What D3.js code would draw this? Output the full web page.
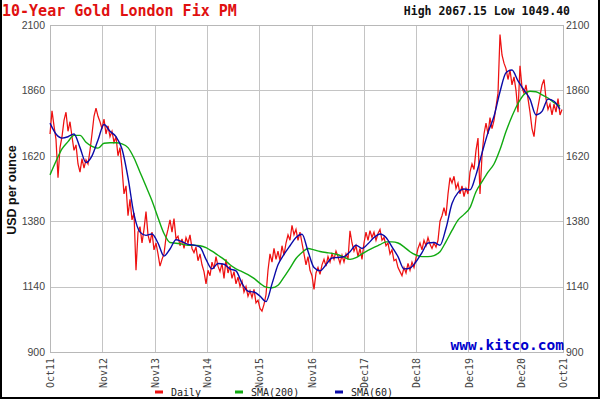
<!DOCTYPE html>
<html>
<head>
<meta charset="utf-8">
<script src="https://cdn.jsdelivr.net/npm/d3@7"></script>
<style>
  body { margin: 0; background: #fff; }
  svg { display: block; }
  .grid line { stroke: #c4c4c4; stroke-width: 1; shape-rendering: crispEdges; }
  .axis text { fill: #444; }
</style>
</head>
<body>
<svg id="chart" width="600" height="399"></svg>
<script>
// x positions are trading-day offsets from the first day shown
const dateLabels = ['Oct11', 'Nov12', 'Nov13', 'Nov14', 'Nov15', 'Nov16', 'Dec17', 'Dec18', 'Dec19', 'Dec20', 'Oct21'];
const tickDays = [0, 262, 524, 784, 1044, 1308, 1568, 1830, 2092, 2352, 2565];
const yTicks = [900, 1140, 1380, 1620, 1860, 2100];
const totalDays = 2565;
const dailyStep = 10;
const smaStep = 30;

const daily = [
    1700, 1785, 1730, 1680, 1540, 1650, 1690, 1750, 1780, 1710, 1745, 1690, 1640, 1660, 1590, 1560, 1610, 1575, 1605, 1590, 1640, 1700, 1765, 1795, 1765,
    1745, 1720, 1755, 1700, 1730, 1690, 1710, 1670, 1690, 1620, 1650, 1575, 1480, 1510, 1400, 1460, 1385, 1410, 1200, 1340, 1360, 1300, 1350, 1415, 1330,
    1300, 1340, 1275, 1300, 1260, 1215, 1240, 1260, 1320, 1350, 1385, 1340, 1390, 1315, 1325, 1290, 1315, 1280, 1320, 1300, 1330, 1280, 1265, 1285, 1235,
    1260, 1220, 1195, 1150, 1200, 1180, 1230, 1205, 1250, 1215, 1195, 1225, 1170, 1240, 1190, 1215, 1170, 1195, 1150, 1175, 1140, 1160, 1120, 1140, 1105,
    1125, 1100, 1130, 1080, 1090, 1060, 1050, 1075, 1110, 1200, 1260, 1230, 1280, 1240, 1270, 1235, 1290, 1255, 1300, 1330, 1310, 1365, 1330, 1350, 1310,
    1340, 1300, 1260, 1220, 1250, 1200, 1180, 1130, 1190, 1210, 1185, 1220, 1240, 1215, 1250, 1230, 1260, 1240, 1270, 1250, 1225, 1255, 1230, 1260, 1240,
    1345, 1300, 1270, 1290, 1250, 1280, 1240, 1300, 1340, 1310, 1345, 1320, 1340, 1310, 1335, 1350, 1310, 1320, 1290, 1300, 1260, 1275, 1235, 1240, 1210,
    1195, 1180, 1210, 1190, 1225, 1200, 1230, 1210, 1245, 1280, 1300, 1275, 1310, 1290, 1320, 1295, 1280, 1300, 1285, 1310, 1380, 1400, 1430, 1400, 1480,
    1540, 1520, 1545, 1500, 1520, 1480, 1510, 1470, 1500, 1480, 1560, 1590, 1570, 1640, 1685, 1480, 1620, 1700, 1740, 1700, 1760, 1720, 1750, 1800, 1850,
    2065, 1990, 1960, 1940, 1900, 1935, 1880, 1910, 1860, 1780, 1950, 1870, 1850, 1880, 1830, 1780, 1720, 1690, 1760, 1800, 1840, 1880, 1900, 1830, 1790,
    1810, 1770, 1810, 1780, 1830, 1770, 1790
];

const sma200 = [
    1550, 1600, 1645, 1672, 1695, 1695, 1670, 1655, 1648,
    1666, 1668, 1668, 1664, 1650, 1612, 1560, 1508, 1455,
    1393, 1335, 1302, 1299, 1296, 1292, 1292, 1290, 1283,
    1270, 1255, 1240, 1220, 1205, 1195, 1184, 1170, 1152,
    1138, 1136, 1145, 1175, 1208, 1243, 1265, 1280, 1275,
    1269, 1265, 1262, 1257, 1248, 1240, 1246, 1260, 1273,
    1284, 1294, 1304, 1304, 1300, 1286, 1268, 1256, 1250,
    1250, 1254, 1268, 1305, 1346, 1384, 1405, 1430, 1488,
    1525, 1560, 1590, 1643, 1709, 1765, 1812, 1845, 1857,
    1855, 1844, 1832, 1815, 1802
];

const sma60 = [
    1740, 1700, 1685, 1690, 1700, 1650, 1595, 1620, 1678,
    1735, 1710, 1690, 1645, 1540, 1405, 1340, 1328, 1333,
    1300, 1252, 1278, 1312, 1305, 1295, 1292, 1285, 1240,
    1205, 1225, 1222, 1205, 1198, 1152, 1123, 1120, 1105,
    1085, 1150, 1220, 1258, 1290, 1320, 1332, 1270, 1210,
    1198, 1220, 1245, 1247, 1250, 1268, 1292, 1280, 1297,
    1320, 1333, 1320, 1286, 1250, 1205, 1208, 1231, 1265,
    1300, 1302, 1292, 1354, 1445, 1485, 1498, 1495, 1550,
    1630, 1705, 1765, 1855, 1925, 1935, 1895, 1862, 1828,
    1770, 1783, 1828, 1820, 1790
];

const seriesLabels = ['Daily', 'SMA(200)', 'SMA(60)'];
const seriesColors = ['#ee1111', '#11aa11', '#0a0aa8'];

const svg = d3.select('#chart');
const margin = { top: 25, right: 37, bottom: 47, left: 50 };
const width = 600 - margin.left - margin.right;
const height = 399 - margin.top - margin.bottom;
const g = svg.append('g').attr('transform', `translate(${margin.left}, ${margin.top})`);

const xScale = d3.scaleLinear().domain([0, totalDays]).range([0, width]);
const yScale = d3.scaleLinear().domain([900, 2100]).range([height, 0]);

// grid
g.append('g')
    .attr('class', 'grid')
    .call(d3.axisLeft(yScale).tickValues(yTicks).tickSize(-width).tickFormat(''))
    .call(s => s.select('.domain').remove());
g.append('g')
    .attr('class', 'grid')
    .attr('transform', `translate(0, ${height})`)
    .call(d3.axisBottom(xScale).tickValues(tickDays).tickSize(-height).tickFormat(''))
    .call(s => s.select('.domain').remove());

// value labels, both sides
const yLeft = g.append('g')
    .attr('class', 'axis')
    .call(d3.axisLeft(yScale).tickValues(yTicks).tickFormat(d3.format('d')).tickSize(0).tickPadding(5));
const yRight = g.append('g')
    .attr('class', 'axis')
    .attr('transform', `translate(${width}, 0)`)
    .call(d3.axisRight(yScale).tickValues(yTicks).tickFormat(d3.format('d')).tickSize(0).tickPadding(3));
[yLeft, yRight].forEach(a => {
    a.select('.domain').remove();
    a.selectAll('text')
        .attr('font-family', '"Liberation Sans", Arial, sans-serif')
        .attr('font-size', 10.5);
});

const xAxis = g.append('g')
    .attr('class', 'axis')
    .attr('transform', `translate(0, ${height})`)
    .call(d3.axisBottom(xScale).tickValues(tickDays).tickSize(0).tickFormat((d, i) => dateLabels[i]));
xAxis.select('.domain').remove();
xAxis.selectAll('text')
    .attr('font-family', '"DejaVu Sans Mono", monospace')
    .attr('font-size', 10)
    .attr('transform', 'rotate(-90)')
    .attr('text-anchor', 'end')
    .attr('x', -6)
    .attr('y', 0)
    .attr('dy', '0.36em');

// plot frame
g.append('rect')
    .attr('x', 0)
    .attr('y', 0)
    .attr('width', width)
    .attr('height', height)
    .attr('fill', 'none')
    .attr('stroke', '#b8b8b8')
    .attr('shape-rendering', 'crispEdges');

// series
const dailyLine = d3.line()
    .x((d, i) => xScale(i * dailyStep))
    .y(d => yScale(d));
const smaLine = d3.line()
    .x((d, i) => xScale(i * smaStep))
    .y(d => yScale(d))
    .curve(d3.curveMonotoneX);

g.append('path')
    .datum(daily)
    .attr('d', dailyLine)
    .attr('fill', 'none')
    .attr('stroke', seriesColors[0])
    .attr('stroke-width', 1.25);
g.append('path')
    .datum(sma200)
    .attr('d', smaLine)
    .attr('fill', 'none')
    .attr('stroke', seriesColors[1])
    .attr('stroke-width', 1.4);
g.append('path')
    .datum(sma60)
    .attr('d', smaLine)
    .attr('fill', 'none')
    .attr('stroke', seriesColors[2])
    .attr('stroke-width', 1.4);

// titles
svg.append('text')
    .attr('x', 2)
    .attr('y', 15.5)
    .attr('font-family', '"DejaVu Sans Mono", monospace')
    .attr('font-weight', 'bold')
    .attr('font-size', 15)
    .attr('fill', '#e01010')
    .text('10-Year Gold London Fix PM');
svg.append('text')
    .attr('x', 570)
    .attr('y', 15)
    .attr('text-anchor', 'end')
    .attr('font-family', '"DejaVu Sans Mono", monospace')
    .attr('font-weight', 'bold')
    .attr('font-size', 11.5)
    .attr('fill', '#111')
    .text('High 2067.15 Low 1049.40');
svg.append('text')
    .attr('transform', 'translate(16, 190) rotate(-90)')
    .attr('text-anchor', 'middle')
    .attr('font-family', '"Liberation Sans", Arial, sans-serif')
    .attr('font-weight', 'bold')
    .attr('font-size', 12.5)
    .attr('fill', '#111')
    .text('USD per ounce');
svg.append('text')
    .attr('x', 564)
    .attr('y', 350)
    .attr('text-anchor', 'end')
    .attr('font-family', '"DejaVu Sans Mono", monospace')
    .attr('font-weight', 'bold')
    .attr('font-size', 14.5)
    .attr('fill', '#0000cc')
    .text('www.kitco.com');

// legend
const legendX = [155, 235, 335];
const legend = svg.append('g')
    .selectAll('g')
    .data(seriesLabels)
    .enter()
    .append('g')
    .attr('transform', (d, i) => `translate(${legendX[i]}, 392)`);
legend.append('rect')
    .attr('x', 0)
    .attr('y', -1.5)
    .attr('width', 8)
    .attr('height', 3)
    .attr('fill', (d, i) => seriesColors[i]);
legend.append('text')
    .attr('x', 16)
    .attr('y', 4)
    .attr('font-family', '"DejaVu Sans Mono", monospace')
    .attr('font-size', 10)
    .attr('fill', '#222')
    .text(d => d);

// outer border
svg.append('path')
    .attr('d', 'M1,0V398H599V0')
    .attr('fill', 'none')
    .attr('stroke', '#000')
    .attr('stroke-width', 2);
</script>
</body>
</html>
